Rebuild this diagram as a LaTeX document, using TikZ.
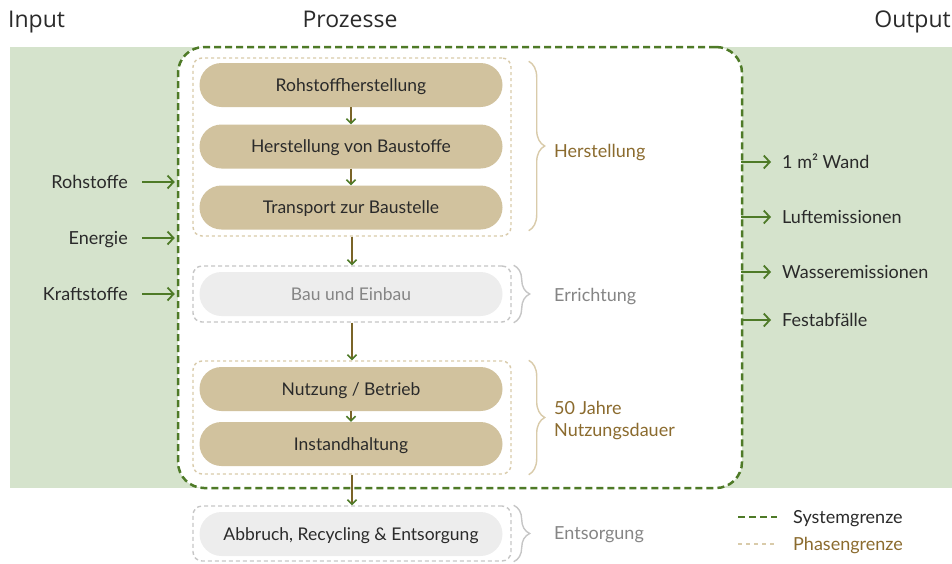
\documentclass[tikz,border=0pt]{standalone}
\usepackage{fontspec}
\setmainfont{Lato}
\newfontfamily\headfont{Open Sans}
\usetikzlibrary{arrows.meta,decorations.pathreplacing,calc}
\definecolor{bggreen}{HTML}{D5E3CC}
\definecolor{sysgreen}{HTML}{4E7A27}
\definecolor{tanfill}{HTML}{D1C29E}
\definecolor{tanline}{HTML}{D9CBAA}
\definecolor{gold}{HTML}{8B6B2E}
\definecolor{greyfill}{HTML}{EDEDED}
\definecolor{greyline}{HTML}{C6C6C6}
\definecolor{greytext}{HTML}{858585}
\definecolor{darktext}{HTML}{2A2A2A}
\definecolor{stemcol}{HTML}{7A6428}
\tikzset{
  txt/.style={font=\fontsize{17.5}{21}\selectfont, text=darktext, inner sep=0pt, text height=13, text depth=1},
  proc/.style={txt, rounded corners=22, fill=tanfill, minimum width=303, minimum height=44},
  grayproc/.style={txt, rounded corners=22, fill=greyfill, minimum width=303, minimum height=44},
  phasebox/.style={draw=tanline, line width=1.4, dash pattern=on 3pt off 3pt, rounded corners=9, minimum width=318},
  grayphase/.style={draw=greyline, line width=1.4, dash pattern=on 4pt off 3pt, rounded corners=9, minimum width=318},
  flow/.style={draw=stemcol, line width=1.5, -{Straight Barb[length=4.5,width=9,color=sysgreen,line width=1.6]}},
  ioarrow/.style={draw=sysgreen, line width=1.8, -{Straight Barb[length=6,width=13,line width=1.8]}},
  tanbrace/.style={draw=tanline, line width=1.4, decorate, decoration={brace, amplitude=16, aspect=0.5}},
  graybrace/.style={draw=greyline, line width=1.4, decorate, decoration={brace, amplitude=16, aspect=0.5}},
  phaselbl/.style={font=\fontsize{18}{22}\selectfont, anchor=west, inner sep=0pt, align=left},
  iolbl/.style={txt, font=\fontsize{18}{22}\selectfont},
  head/.style={font=\headfont\fontsize{23}{27}\selectfont, text=darktext, inner sep=0pt},
}
\begin{document}
\begin{tikzpicture}[x=1pt,y=-1pt]
\useasboundingbox (0,0) rectangle (952,563);
% header
\node[head, anchor=base west] (hin) at (8,27) {Input};
\node[head, anchor=base] (hpro) at (350,27) {Prozesse};
\node[head, anchor=base east] (hout) at (951,27) {Output};
% background
\fill[bggreen] (10,47) rectangle (952,488);
% system boundary
\node[draw=sysgreen, fill=white, line width=2.5, dash pattern=on 7pt off 4pt, rounded corners=26,
      minimum width=564, minimum height=441] (sys) at (460,267.5) {};
% phase boxes
\node[phasebox, minimum height=178] (ph1) at (352,147) {};
\node[grayphase, minimum height=56] (ph2) at (352,294) {};
\node[phasebox, minimum height=113] (ph3) at (352,417.5) {};
\node[grayphase, minimum height=55] (ph4) at (352,533.5) {};
% processes
\node[proc] (p1) at (351,85) {Rohstoffherstellung};
\node[proc] (p2) at (351,146.5) {Herstellung von Baustoffe};
\node[proc] (p3) at (351,207.5) {Transport zur Baustelle};
\node[grayproc, text=greytext] (p4) at (351,294) {Bau und Einbau};
\node[proc] (p5) at (351,389) {Nutzung / Betrieb};
\node[proc] (p6) at (351,444) {Instandhaltung};
\node[grayproc] (p7) at (351,534) {Abbruch, Recycling \& Entsorgung};
% flow arrows
\draw[flow] (p1.south) -- (p2.north);
\draw[flow] (p2.south) -- (p3.north);
\draw[flow] (ph1.south) -- (ph2.north);
\draw[flow] (ph2.south) -- (ph3.north);
\draw[flow] (p5.south) -- (p6.north);
\draw[flow] (ph3.south) -- (ph4.north);
% braces and phase labels
\node[phaselbl, text=gold] (l1) at (554,152.5) {Herstellung};
\node[phaselbl, text=greytext] (l2) at (554,296.5) {Errichtung};
\node[phaselbl, text=gold] (l3) at (554,420.5) {50 Jahre\\Nutzungsdauer};
\node[phaselbl, text=greytext] (l4) at (554,534.5) {Entsorgung};
\draw[tanbrace] ([xshift=17,yshift=-4]ph1.north east) -- ([xshift=17,yshift=6]ph1.south east);
\draw[graybrace] ([xshift=2]ph2.north east) -- ([xshift=2]ph2.south east);
\draw[tanbrace] ([xshift=17]ph3.north east) -- ([xshift=17]ph3.south east);
\draw[graybrace] ([xshift=2]ph4.north east) -- ([xshift=2]ph4.south east);
% inputs
\node[iolbl, anchor=east] (i1) at (128,182) {Rohstoffe};
\node[iolbl, anchor=east] (i2) at (128,238) {Energie};
\node[iolbl, anchor=east] (i3) at (128,294) {Kraftstoffe};
\foreach \n in {i1,i2,i3}{
  \draw[ioarrow] ([xshift=14]\n.east) -- ([xshift=-2]\n -| sys.west);
}
% outputs
\node[iolbl, anchor=west] (o1) at (782,162) {1 m² Wand};
\node[iolbl, anchor=west] (o2) at (782,217) {Luftemissionen};
\node[iolbl, anchor=west] (o3) at (782,272) {Wasseremissionen};
\node[iolbl, anchor=west] (o4) at (782,320) {Festabfälle};
\foreach \n in {o1,o2,o3,o4}{
  \draw[ioarrow] ([xshift=-2]\n -| sys.east) -- ([xshift=-11]\n.west);
}
% legend
\coordinate (lg1a) at (738,517);
\coordinate (lg1b) at (777,517);
\coordinate (lg2a) at (738,544);
\coordinate (lg2b) at (777,544);
\draw[draw=sysgreen, line width=2.5, dash pattern=on 7pt off 4pt] (lg1a) -- (lg1b);
\draw[draw=tanline, line width=1.4, dash pattern=on 4pt off 4pt] (lg2a) -- (lg2b);
\node[iolbl, anchor=west] (lg1) at (793,517) {Systemgrenze};
\node[iolbl, anchor=west, text=gold] (lg2) at (793,544) {Phasengrenze};
\end{tikzpicture}
\end{document}
